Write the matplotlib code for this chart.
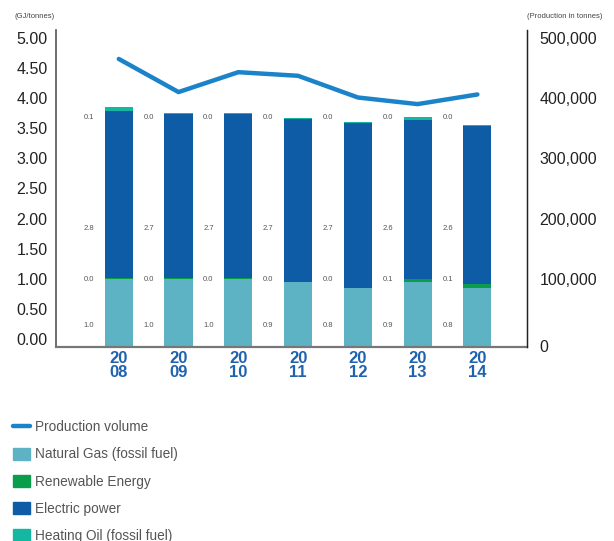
import matplotlib
matplotlib.use("Agg")
import matplotlib.pyplot as plt
import matplotlib.transforms as mtransforms
from matplotlib.lines import Line2D
from matplotlib.patches import Patch
import numpy as np

plt.rcParams['font.family'] = ['Liberation Sans', 'DejaVu Sans']

years = ['2008', '2009', '2010', '2011', '2012', '2013', '2014']
natural_gas = [0.99, 1.00, 1.00, 0.94, 0.84, 0.94, 0.84]
renewable = [0.02, 0.02, 0.02, 0.01, 0.01, 0.06, 0.07]
electric = [2.78, 2.72, 2.72, 2.70, 2.74, 2.64, 2.62]
heating_oil = [0.06, 0.02, 0.02, 0.02, 0.02, 0.04, 0.02]
production = [465000, 410000, 443000, 437000, 401000, 390000, 406000]

c_gas = '#5db3c4'
c_ren = '#0a9e4c'
c_elec = '#0e5ca6'
c_oil = '#14b8a2'
c_line = '#1b83c9'
c_label = '#555555'

x = np.arange(len(years))
width = 0.47
floor = -0.133

fig = plt.figure(figsize=(6.14, 5.41), dpi=100)
ax = fig.add_axes([0.0912, 0.3586, 0.7671, 0.5859])
ax2 = ax.twinx()

gas = np.array(natural_gas)
ren = np.array(renewable)
elec = np.array(electric)
oil = np.array(heating_oil)

# stacked energy bars, the gas segment runs down to the axis floor
ax.bar(x, gas - floor, width, bottom=floor, color=c_gas, zorder=2)
ax.bar(x, ren, width, bottom=gas, color=c_ren, zorder=2)
ax.bar(x, elec, width, bottom=gas + ren, color=c_elec, zorder=2)
ax.bar(x, oil, width, bottom=gas + ren + elec, color=c_oil, zorder=2)

# small value labels between the bars
for i in range(len(years)):
    lx = x[i] - 0.5
    for val, ly in [(gas[i], 0.23), (ren[i], 0.99), (elec[i], 1.84), (oil[i], 3.68)]:
        ax.text(lx, ly, '{:.1f}'.format(val), fontsize=5.5, color=c_label,
                ha='center', va='center')

ax2.plot(x, production, color=c_line, lw=3.2, solid_capstyle='round', zorder=3)

ax.set_xlim(-1.05, 6.83)
ax.set_ylim(floor, 5.13)
ax2.set_ylim(floor * 100000, 513000)

ax.set_yticks(np.arange(0, 5.01, 0.5))
ax.set_yticklabels(['{:.2f}'.format(v) for v in np.arange(0, 5.01, 0.5)])
ax2.set_yticks(np.arange(0, 500001, 100000))
ax2.set_yticklabels(['{:,}'.format(v) for v in range(0, 500001, 100000)])

ax.set_xticks(x)
ax.set_xticklabels([y[:2] + '\n' + y[2:] for y in years], fontsize=12,
                   fontweight='bold', color='#1f63ae', linespacing=0.9)

ax.tick_params(axis='y', length=0, pad=6, labelsize=11.5, labelcolor='#222222')
ax.tick_params(axis='x', length=0, pad=3)
ax2.tick_params(axis='y', length=0, pad=9, labelsize=11.5, labelcolor='#222222')

# the zero on the production axis sits a little lower
zero_lbl = ax2.get_yticklabels()[0]
zero_lbl.set_transform(zero_lbl.get_transform() +
                       mtransforms.ScaledTranslation(0, -7 / 100, fig.dpi_scale_trans))

for a in (ax, ax2):
    a.spines['top'].set_visible(False)
ax.spines['left'].set_color('#555555')
ax.spines['left'].set_linewidth(1.2)
ax.spines['bottom'].set_color('#777777')
ax.spines['bottom'].set_linewidth(1.6)
ax2.spines['right'].set_color('#222222')
ax2.spines['right'].set_linewidth(1.0)
ax2.spines['left'].set_visible(False)
ax2.spines['bottom'].set_visible(False)

fig.text(0.024, 0.97, '(GJ/tonnes)', fontsize=5.5, color='#444444', va='center')
fig.text(0.858, 0.97, '(Production in tonnes)', fontsize=5.5, color='#444444', va='center')

handles = [
    Line2D([0], [0], color=c_line, lw=3.2, solid_capstyle='round'),
    Patch(color=c_gas),
    Patch(color=c_ren),
    Patch(color=c_elec),
    Patch(color=c_oil),
]
labels = ['Production volume', 'Natural Gas (fossil fuel)', 'Renewable Energy',
          'Electric power', 'Heating Oil (fossil fuel)']
fig.legend(handles, labels, loc='upper left', bbox_to_anchor=(0.002, 0.246),
           frameon=False, fontsize=9.8, labelcolor='#555555', handlelength=1.2,
           handleheight=1.0, handletextpad=0.35, labelspacing=0.97)

fig.savefig('out.png', dpi=100)
